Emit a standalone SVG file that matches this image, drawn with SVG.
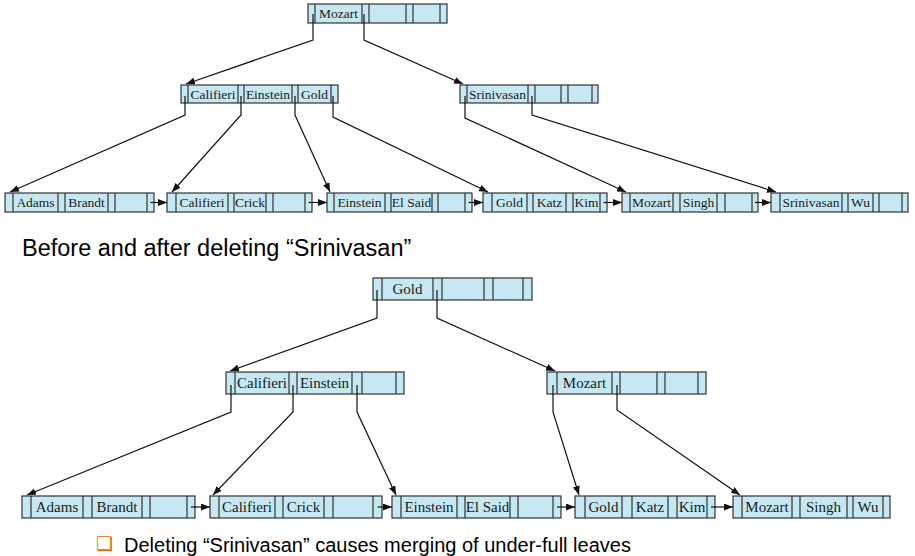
<svg xmlns="http://www.w3.org/2000/svg" width="915" height="556" viewBox="0 0 915 556">
<defs>
<marker id="ah" markerUnits="userSpaceOnUse" markerWidth="9" markerHeight="7" refX="9" refY="3.5" orient="auto">
<path d="M0,0 L9,3.5 L0,7 z" fill="#111"/>
</marker>
<style>
.c{fill:#c6e8f2;stroke:#333;stroke-width:1.2}
.d{stroke:#333;stroke-width:1.2}
.k{font-family:"Liberation Serif","Times New Roman",serif;font-size:13.5px;fill:#1a1a1a;text-anchor:middle}
.kb{font-family:"Liberation Serif","Times New Roman",serif;font-size:15px;fill:#1a1a1a;text-anchor:middle}
.a{fill:none;stroke:#111;stroke-width:1.2;marker-end:url(#ah)}
.t{font-family:"Liberation Sans",Arial,sans-serif;fill:#000}
</style>
</defs>
<rect width="915" height="556" fill="#fff"/>

<!-- top tree -->
<g id="t-root">
<rect class="c" x="308" y="4" width="139" height="19"/>
<path class="d" d="M315,4v19M362,4v19M369,4v19M406,4v19M413,4v19M440,4v19"/>
<text class="k" x="338.5" y="18">Mozart</text>
</g>
<g id="t-int1">
<rect class="c" x="181" y="85" width="157" height="18"/>
<path class="d" d="M188,85v18M238,85v18M244,85v18M292,85v18M298,85v18M331,85v18"/>
<text class="k" x="213" y="98.5">Califieri</text>
<text class="k" x="268" y="98.5">Einstein</text>
<text class="k" x="314.5" y="98.5">Gold</text>
</g>
<g id="t-int2">
<rect class="c" x="460" y="85" width="138" height="18"/>
<path class="d" d="M467,85v18M528,85v18M535,85v18M561,85v18M568,85v18M592,85v18"/>
<text class="k" x="497.5" y="98.5">Srinivasan</text>
</g>
<g id="t-leaf1">
<rect class="c" x="5" y="193" width="149" height="19"/>
<path class="d" d="M13,193v19M58,193v19M65,193v19M108,193v19M115,193v19M147,193v19"/>
<text class="k" x="35.5" y="207">Adams</text>
<text class="k" x="86.5" y="207">Brandt</text>
</g>
<g id="t-leaf2">
<rect class="c" x="167" y="193" width="145" height="19"/>
<path class="d" d="M176,193v19M228,193v19M234,193v19M266,193v19M273,193v19M305,193v19"/>
<text class="k" x="202" y="207">Califieri</text>
<text class="k" x="250" y="207">Crick</text>
</g>
<g id="t-leaf3">
<rect class="c" x="327" y="193" width="145" height="19"/>
<path class="d" d="M334,193v19M385,193v19M391,193v19M432,193v19M438,193v19M465,193v19"/>
<text class="k" x="359.5" y="207">Einstein</text>
<text class="k" x="411.5" y="207">El Said</text>
</g>
<g id="t-leaf4">
<rect class="c" x="483" y="193" width="124" height="19"/>
<path class="d" d="M492,193v19M527,193v19M533,193v19M566,193v19M573,193v19M600,193v19"/>
<text class="k" x="509.5" y="207">Gold</text>
<text class="k" x="549.5" y="207">Katz</text>
<text class="k" x="586.5" y="207">Kim</text>
</g>
<g id="t-leaf5">
<rect class="c" x="622" y="193" width="136" height="19"/>
<path class="d" d="M630,193v19M673,193v19M680,193v19M717,193v19M725,193v19M752,193v19"/>
<text class="k" x="651.5" y="207">Mozart</text>
<text class="k" x="698.5" y="207">Singh</text>
</g>
<g id="t-leaf6">
<rect class="c" x="771" y="193" width="137" height="19"/>
<path class="d" d="M780,193v19M842,193v19M848,193v19M873,193v19M879,193v19M902,193v19"/>
<text class="k" x="811" y="207">Srinivasan</text>
<text class="k" x="860.5" y="207">Wu</text>
</g>

<text class="t" x="22" y="256" font-size="23.5">Before and after deleting “Srinivasan”</text>

<!-- bottom tree -->
<g id="b-root">
<rect class="c" x="373" y="278" width="159" height="22"/>
<path class="d" d="M382,278v22M433,278v22M442,278v22M484,278v22M493,278v22M523,278v22"/>
<text class="kb" x="407.5" y="294">Gold</text>
</g>
<g id="b-int1">
<rect class="c" x="226" y="372" width="178" height="22"/>
<path class="d" d="M235,372v22M289,372v22M297,372v22M352,372v22M362,372v22M396,372v22"/>
<text class="kb" x="262" y="388">Califieri</text>
<text class="kb" x="324.5" y="388">Einstein</text>
</g>
<g id="b-int2">
<rect class="c" x="547" y="372" width="159" height="22"/>
<path class="d" d="M557,372v22M612,372v22M620,372v22M657,372v22M665,372v22M698,372v22"/>
<text class="kb" x="584.5" y="388">Mozart</text>
</g>
<g id="b-leaf1">
<rect class="c" x="22" y="496" width="173" height="22"/>
<path class="d" d="M31,496v22M83,496v22M92,496v22M142,496v22M150,496v22M187,496v22"/>
<text class="kb" x="57" y="512">Adams</text>
<text class="kb" x="117" y="512">Brandt</text>
</g>
<g id="b-leaf2">
<rect class="c" x="210" y="496" width="172" height="22"/>
<path class="d" d="M219,496v22M275,496v22M283,496v22M324,496v22M333,496v22M373,496v22"/>
<text class="kb" x="247" y="512">Califieri</text>
<text class="kb" x="303.5" y="512">Crick</text>
</g>
<g id="b-leaf3">
<rect class="c" x="392" y="496" width="169" height="22"/>
<path class="d" d="M401,496v22M457,496v22M465,496v22M510,496v22M518,496v22M553,496v22"/>
<text class="kb" x="429" y="512">Einstein</text>
<text class="kb" x="487.5" y="512">El Said</text>
</g>
<g id="b-leaf4">
<rect class="c" x="575" y="496" width="140" height="22"/>
<path class="d" d="M585,496v22M622,496v22M632,496v22M668,496v22M677,496v22M707,496v22"/>
<text class="kb" x="603.5" y="512">Gold</text>
<text class="kb" x="650" y="512">Katz</text>
<text class="kb" x="692" y="512">Kim</text>
</g>
<g id="b-leaf5">
<rect class="c" x="733" y="496" width="157" height="22"/>
<path class="d" d="M742,496v22M792,496v22M800,496v22M847,496v22M853,496v22M883,496v22"/>
<text class="kb" x="767" y="512">Mozart</text>
<text class="kb" x="823.5" y="512">Singh</text>
<text class="kb" x="868" y="512">Wu</text>
</g>

<g id="connectors">
<polyline class="a" points="313,14 313,40 186,84"/>
<polyline class="a" points="364,14 364,40 463,84"/>
<polyline class="a" points="185,96 185,115 10,192"/>
<polyline class="a" points="241,96 241,115 172,192"/>
<polyline class="a" points="295,96 295,115 330,192"/>
<polyline class="a" points="333,96 333,117 488,192"/>
<polyline class="a" points="465,96 465,118 626,192"/>
<polyline class="a" points="532,96 532,115 776,192"/>
<line class="a" x1="150.5" y1="202.5" x2="167" y2="202.5"/>
<line class="a" x1="308.5" y1="202.5" x2="327" y2="202.5"/>
<line class="a" x1="468.5" y1="202.5" x2="483" y2="202.5"/>
<line class="a" x1="603.5" y1="202.5" x2="622" y2="202.5"/>
<line class="a" x1="755" y1="202.5" x2="771" y2="202.5"/>

<polyline class="a" points="377,290 377,318 230,371"/>
<polyline class="a" points="437,290 437,318 555,371"/>
<polyline class="a" points="231,385 231,412 27,495"/>
<polyline class="a" points="293,385 293,412 213,495"/>
<polyline class="a" points="357,385 357,412 396,495"/>
<polyline class="a" points="553,385 553,412 579,495"/>
<polyline class="a" points="617,385 617,410 740,495"/>
<line class="a" x1="191" y1="507" x2="210" y2="507"/>
<line class="a" x1="377.5" y1="507" x2="392" y2="507"/>
<line class="a" x1="557" y1="507" x2="575" y2="507"/>
<line class="a" x1="711" y1="507" x2="733" y2="507"/>
</g>

<text x="96" y="550" font-family="DejaVu Sans,sans-serif" font-size="19" fill="#e46c0a">❑</text>
<text class="t" x="124" y="552" font-size="20">Deleting “Srinivasan” causes merging of under-full leaves</text>
</svg>
